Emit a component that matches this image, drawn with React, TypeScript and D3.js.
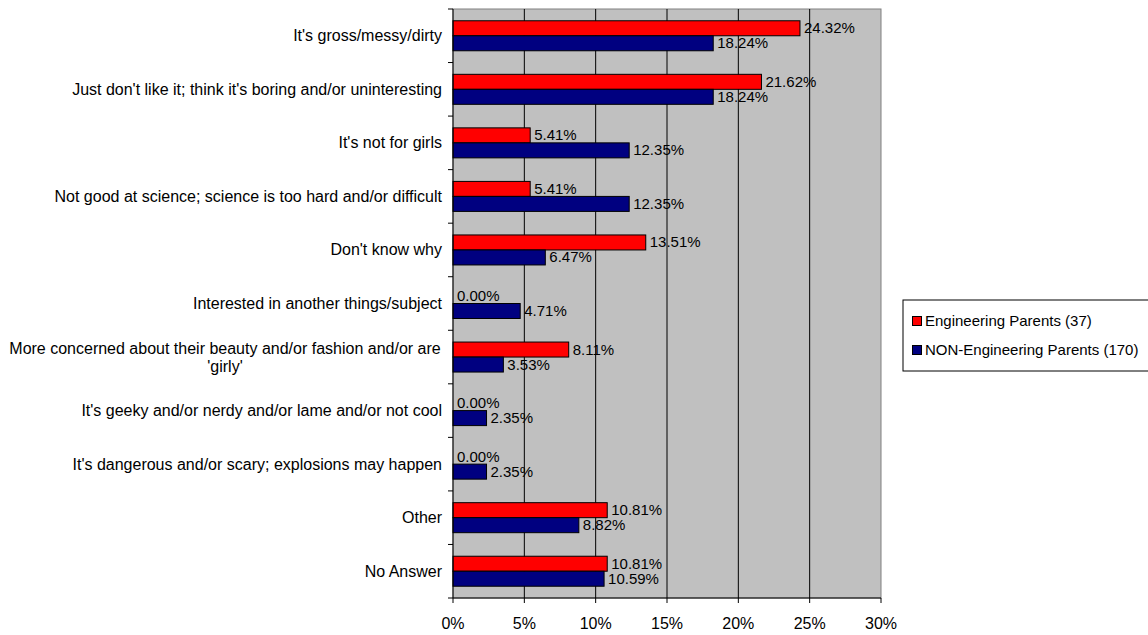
import React from "react";
import * as d3 from "d3";

const categories = [
  "It's gross/messy/dirty",
  "Just don't like it; think it's boring and/or uninteresting",
  "It's not for girls",
  "Not good at science; science is too hard and/or difficult",
  "Don't know why",
  "Interested in another things/subject",
  "More concerned about their beauty and/or fashion and/or are|'girly'",
  "It's geeky and/or nerdy and/or lame and/or not cool",
  "It's dangerous and/or scary; explosions may happen",
  "Other",
  "No Answer",
];
const engineering = [24.32, 21.62, 5.41, 5.41, 13.51, 0.0, 8.11, 0.0, 0.0, 10.81, 10.81];
const nonEngineering = [18.24, 18.24, 12.35, 12.35, 6.47, 4.71, 3.53, 2.35, 2.35, 8.82, 10.59];
const seriesNames = ["Engineering Parents (37)", "NON-Engineering Parents (170)"];
const seriesColors = ["#ff0000", "#000080"];
const xTicks = [0, 5, 10, 15, 20, 25, 30];

export default function App() {
  const W = 1148, H = 635;
  const left = 453, right = 881, top = 9, bottom = 598;
  const x = d3.scaleLinear().domain([0, 30]).range([left, right]);
  const y = d3.scaleBand<string>().domain(categories).range([top, bottom]);
  const inner = d3.scaleBand<number>().domain([0, 1]).range([0, 30]);
  const groupOffset = (y.bandwidth() - 30) / 2;
  const series = [engineering, nonEngineering];
  const font = "Liberation Sans, Arial, sans-serif";

  return (
    <svg width={W} height={H} style={{ position: "absolute", left: 0, top: 0 }} fontFamily={font}>
      <rect x={0} y={0} width={W} height={H} fill="#fff" />
      <rect x={left} y={top} width={right - left} height={bottom - top} fill="#c0c0c0" stroke="#808080" strokeWidth={1} />
      {xTicks.slice(1, -1).map((t) => (
        <line key={t} x1={x(t)} x2={x(t)} y1={top} y2={bottom} stroke="#000" strokeWidth={1} />
      ))}
      {categories.map((c, i) =>
        series.map((s, si) => (
          <rect
            key={c + si}
            x={x(0)}
            y={(y(c) as number) + groupOffset + (inner(si) as number)}
            width={x(s[i]) - x(0)}
            height={inner.bandwidth()}
            fill={seriesColors[si]}
            stroke="#000"
            strokeWidth={1}
          />
        ))
      )}
      {categories.map((c, i) =>
        series.map((s, si) => (
          <text
            key={"l" + c + si}
            x={x(s[i]) + 4}
            y={(y(c) as number) + groupOffset + (inner(si) as number) + inner.bandwidth() / 2 + 5}
            fontSize={15}
            fill="#000"
          >
            {s[i].toFixed(2) + "%"}
          </text>
        ))
      )}
      {/* axes */}
      <line x1={left} x2={left} y1={top} y2={bottom} stroke="#000" />
      <line x1={left} x2={right} y1={bottom} y2={bottom} stroke="#000" />
      {categories.map((c) => (
        <line key={"yt" + c} x1={left - 5} x2={left} y1={y(c) as number} y2={y(c) as number} stroke="#000" />
      ))}
      <line x1={left - 5} x2={left} y1={bottom} y2={bottom} stroke="#000" />
      {xTicks.map((t) => (
        <g key={"xt" + t}>
          <line x1={x(t)} x2={x(t)} y1={bottom} y2={bottom + 5} stroke="#000" />
          <text x={x(t)} y={bottom + 31} textAnchor="middle" fontSize={16} fill="#000">
            {t + "%"}
          </text>
        </g>
      ))}
      {categories.map((c) => {
        const lines = c.split("|");
        const cy = (y(c) as number) + y.bandwidth() / 2;
        if (lines.length === 1) {
          return (
            <text key={"c" + c} x={left - 11} y={cy + 5.5} textAnchor="end" fontSize={16} fill="#000">
              {c}
            </text>
          );
        }
        return (
          <text key={"c" + c} x={225} textAnchor="middle" fontSize={16} fill="#000">
            {lines.map((ln, k) => (
              <tspan key={k} x={225} y={cy + 5.5 + (k - (lines.length - 1) / 2) * 18}>
                {ln}
              </tspan>
            ))}
          </text>
        );
      })}
      {/* legend */}
      <rect x={903} y={300} width={260} height={71} fill="#fff" stroke="#000" strokeWidth={1} />
      {seriesNames.map((n, i) => (
        <g key={n}>
          <rect x={912.5} y={316.5 + i * 29} width={9} height={9} fill={seriesColors[i]} stroke="#000" strokeWidth={1} />
          <text x={925} y={326 + i * 29} fontSize={15} fill="#000">
            {n}
          </text>
        </g>
      ))}
    </svg>
  );
}
